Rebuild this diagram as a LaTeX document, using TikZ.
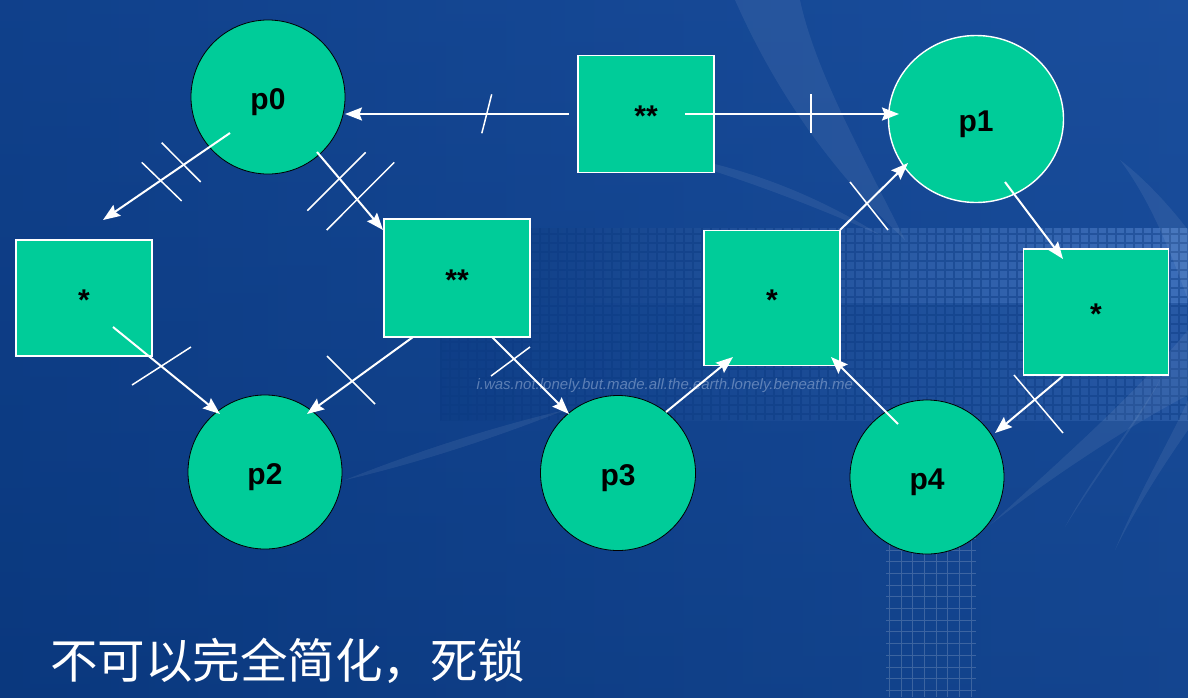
\documentclass[tikz,border=0pt]{standalone}
\usepackage{fontspec}
\setmainfont{Liberation Sans}
\newfontfamily\cjkfont{Noto Sans CJK SC}
\usetikzlibrary{arrows.meta,shapes.geometric}

\definecolor{nodegreen}{HTML}{00CC99}
\definecolor{bgleft}{HTML}{0B3A82}
\definecolor{bgright}{HTML}{1A4E9D}
\definecolor{bgdeep}{HTML}{093577}
\definecolor{bandlight}{HTML}{4677C2}
\definecolor{ghost}{HTML}{8FA9D2}

\tikzset{
  lbltext/.style={font=\bfseries\fontsize{30}{36}\selectfont,
    text height=32pt, text depth=6.4pt},
  proc/.style={circle, fill=nodegreen, draw=black, line width=0.8pt,
    minimum size=154pt, inner sep=0pt, lbltext},
  res/.style={rectangle, fill=nodegreen, draw=white, line width=1.6pt,
    inner sep=0pt, lbltext},
  arr/.style={draw=white, line width=2pt,
    -{Stealth[length=17pt,width=13pt,inset=2.5pt]}},
  cut/.style={draw=white, line width=1.5pt},
  leaf/.style={fill=white, opacity=0.07},
}

\begin{document}
\begin{tikzpicture}[x=1pt,y=-1pt]
\useasboundingbox (0,0) rectangle (1188,697);

% slide background
\shade[left color=bgleft, right color=bgright] (0,0) rectangle (1188,697);
\shade[top color=bgright, bottom color=bgdeep, opacity=0.35] (0,0) rectangle (1188,697);

% pixel band
\shade[left color=bgleft, right color=bandlight, opacity=0.8] (440,228) rectangle (1188,302);
\shade[left color=bgleft, right color=bandlight, opacity=0.35] (440,302) rectangle (1188,420);
\draw[bgleft, opacity=0.45, line width=1.6pt, step=9pt] (440,228) grid (1188,420);

% grid patch below
\draw[white, opacity=0.18, line width=0.7pt, step=11.7pt] (886,520) grid (976,697);

% light streaks
\path[leaf] (735,0) .. controls (775,90) and (830,170) .. (905,240)
  .. controls (860,150) and (815,70) .. (800,0) -- cycle;
\path[leaf] (640,150) .. controls (720,170) and (800,200) .. (880,235)
  .. controls (800,185) and (720,160) .. (640,150) -- cycle;
\path[leaf] (990,525) .. controls (1060,470) and (1140,420) .. (1188,395)
  -- (1188,330) .. controls (1130,400) and (1060,460) .. (990,525) -- cycle;
\path[leaf] (1065,527) .. controls (1100,470) and (1140,420) .. (1160,380)
  .. controls (1130,430) and (1090,480) .. (1065,527) -- cycle;
\path[leaf] (1115,550) .. controls (1140,490) and (1170,440) .. (1188,400)
  -- (1188,430) .. controls (1160,470) and (1135,510) .. (1115,550) -- cycle;
\path[leaf] (1120,160) .. controls (1150,200) and (1170,250) .. (1188,300)
  -- (1188,230) .. controls (1165,200) and (1140,175) .. (1120,160) -- cycle;
\path[leaf] (345,480) .. controls (420,450) and (500,425) .. (565,410)
  .. controls (490,440) and (410,465) .. (345,480) -- cycle;

\node[text=ghost, opacity=0.6, anchor=west,
  font=\itshape\fontsize{15}{18}\selectfont] (motto) at (473,386)
  {i.was.not.lonely.but.made.all.the.earth.lonely.beneath.me};

% processes
\node[proc] (p0) at (268,97) {p0};
\node[proc, ellipse, draw=white, line width=1.4pt, minimum width=175pt,
  minimum height=167pt] (p1) at (976,119) {p1};
\node[proc] (p2) at (265,472) {p2};
\node[proc, minimum size=155pt] (p3) at (618,473) {p3};
\node[proc] (p4) at (927,477) {p4};

% resources
\node[res, minimum width=136pt, minimum height=117pt] (b0) at (646,114) {**};
\node[res, minimum width=136pt, minimum height=116pt] (b1) at (84,298) {*};
\node[res, minimum width=146pt, minimum height=118pt] (b2) at (457,278) {**};
\node[res, minimum width=136pt, minimum height=135pt] (b3) at (772,298) {*};
\node[res, minimum width=145pt, minimum height=126pt] (b4) at (1096,312) {*};

% edges
\draw[arr] ([shift={(-38,36)}]p0.center) -- ([shift={(19,-78)}]b1.center);
\draw[arr] ([shift={(49,55)}]p0.center) -- ([shift={(-74,-48)}]b2.center);
\draw[arr] ([shift={(-77,0)}]b0.center) -- ([shift={(77,17)}]p0.center);
\draw[arr] ([shift={(39,0)}]b0.center) -- ([shift={(-77,-5)}]p1.center);
\draw[arr] ([shift={(29,29)}]b1.center) -- ([shift={(-45,-58)}]p2.center);
\draw[arr] ([shift={(-44,59)}]b2.center) -- ([shift={(42,-58)}]p2.center);
\draw[arr] ([shift={(35,59)}]b2.center) -- ([shift={(-49,-59)}]p3.center);
\draw[arr] ([shift={(48,-61)}]p3.center) -- ([shift={(-39,59)}]b3.center);
\draw[arr] ([shift={(-29,-53)}]p4.center) -- ([shift={(59,59)}]b3.center);
\draw[arr] ([shift={(68,-68)}]b3.center) -- ([shift={(-68,44)}]p1.center);
\draw[arr] ([shift={(29,63)}]p1.center) -- ([shift={(-33,-53)}]b4.center);
\draw[arr] ([shift={(-33,64)}]b4.center) -- ([shift={(68,-44)}]p4.center);

% strike marks on the edges
\draw[cut] (141.7,162.3) -- (181.7,201);
\draw[cut] (161.7,142.7) -- (200.7,182);
\draw[cut] (307.3,210.7) -- (365.7,152.3);
\draw[cut] (326.7,230) -- (394.3,162.3);
\draw[cut] (491.7,94.3) -- (481.8,133.3);
\draw[cut] (811,94) -- (811,133);
\draw[cut] (132,385) -- (191,347);
\draw[cut] (327,356) -- (375,404);
\draw[cut] (491,376) -- (530,347);
\draw[cut] (850,182) -- (888,230);
\draw[cut] (1014,375) -- (1063,433);

% caption
\node[text=white, anchor=west, inner sep=0pt,
  font=\cjkfont\fontsize{47.5}{50}\selectfont] (caption) at (50,661)
  {不可以完全简化，死锁};
\end{tikzpicture}
\end{document}
